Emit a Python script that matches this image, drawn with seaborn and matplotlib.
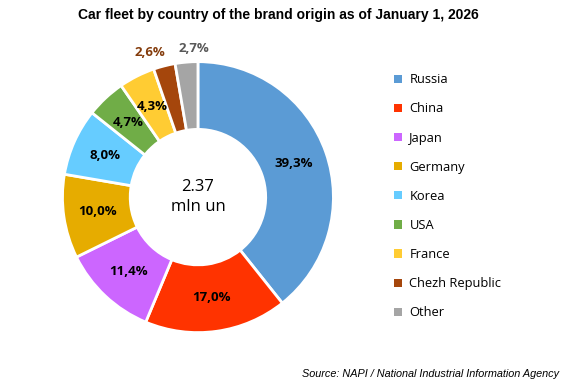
import numpy as np
import matplotlib
matplotlib.use("Agg")
import matplotlib.pyplot as plt
import seaborn as sns

# data
countries = ["Russia", "China", "Japan", "Germany", "Korea", "USA", "France",
             "Chezh Republic", "Other"]
shares = [39.3, 17.0, 11.4, 10.0, 8.0, 4.7, 4.3, 2.6, 2.7]
colors = ["#5B9BD5", "#FF3300", "#CC66FF", "#E6AC00", "#66CCFF", "#70AD47",
          "#FFCC33", "#A5460C", "#A5A5A5"]
outside = {"Chezh Republic": "#843C0C", "Other": "#595959"}
total_label = "2.37\nmln un"

sns.set_theme(style="white")
plt.rcParams['font.family'] = ['Liberation Sans', 'DejaVu Sans']
plt.rcParams['text.color'] = 'black'

fig = plt.figure(figsize=(5.68, 3.85), dpi=100)
ax = fig.add_axes([0.110, 0.136, 0.477, 0.704])

wedges, _ = ax.pie(shares, colors=colors, startangle=90, counterclock=False,
                   radius=1.0,
                   wedgeprops=dict(width=0.5, edgecolor="white", linewidth=2))

# percentage labels
cum = np.cumsum([0] + shares[:-1])
for name, v, c0 in zip(countries, shares, cum):
    mid = 90 - (c0 + v / 2) * 3.6
    txt = f"{v:.1f}".replace(".", ",") + "%"
    if name in outside:
        r = 1.1
        x, y = r * np.cos(np.radians(mid)), r * np.sin(np.radians(mid))
        if name == "Chezh Republic":
            x -= 0.08
        else:
            x = -0.03
        ax.text(x, y, txt, ha="center", va="center", fontsize=9.5,
                fontweight="bold", color=outside[name],
                family=['Open Sans', 'DejaVu Sans'])
    else:
        r = 0.75
        x, y = r * np.cos(np.radians(mid)), r * np.sin(np.radians(mid))
        ax.text(x, y, txt, ha="center", va="center", fontsize=9.5,
                fontweight="bold", color="black",
                family=['Open Sans', 'DejaVu Sans'])

ax.text(0, 0, total_label, ha="center", va="center", fontsize=12,
        color="black", linespacing=1.3, family=['Open Sans', 'DejaVu Sans'])
ax.set_xlim(-1, 1)
ax.set_ylim(-1, 1)
ax.set_aspect("equal")

leg = fig.legend(wedges, countries, loc="upper left",
                 bbox_to_anchor=(0.673, 0.84), frameon=False,
                 handlelength=0.6, handleheight=0.6, handletextpad=0.6,
                 labelspacing=1.25, labelcolor="black",
                 prop={'family': ['Open Sans', 'DejaVu Sans'], 'size': 9.3})
for h in leg.legend_handles:
    h.set_edgecolor("none")

fig.text(0.49, 0.962, "Car fleet by country of the brand origin as of January 1, 2026",
         ha="center", va="center", fontsize=10, fontweight="bold", color="black")
fig.text(0.985, 0.028, "Source: NAPI / National Industrial Information Agency",
         ha="right", va="center", fontsize=7.8, style="italic", color="black")

fig.savefig("out.png", dpi=100)
